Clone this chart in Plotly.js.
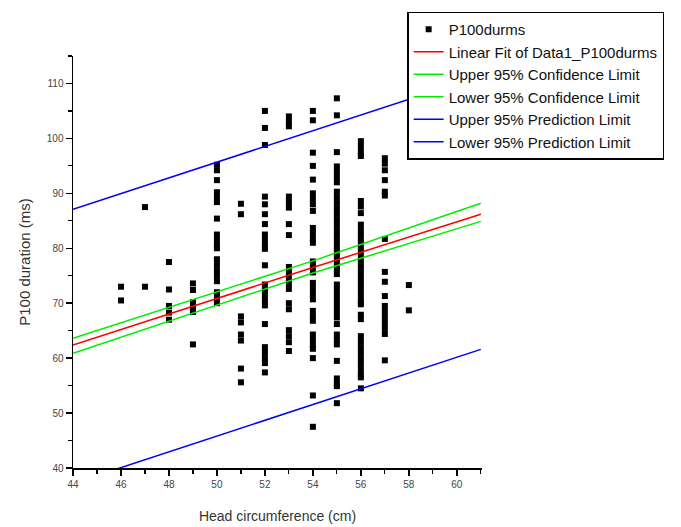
<!DOCTYPE html>
<html>
<head>
<meta charset="utf-8">
<script src="https://cdn.plot.ly/plotly-3.0.1.min.js"></script>
<style>html,body{margin:0;padding:0;background:#fff;}#chart{width:681px;height:527px;}</style>
</head>
<body>
<div id="chart"></div>
<script>
// Scatter data: P100 duration (ms) per head circumference (cm)
const p100_46 = [73.0, 70.5];
const p100_47 = [87.5, 73.0];
const p100_48 = [77.5, 72.5, 69.5, 68.3, 67.0];
const p100_49 = [73.6, 72.4, 70.2, 69.2, 68.4, 62.5];
const p100_50 = [95.2, 94.2, 92.4, 90.2, 89.2, 88.4, 85.4, 82.5, 81.5, 80.5, 80.0, 78.0, 77.0, 76.0, 75.0, 74.0, 72.0, 71.0, 70.0];
const p100_51 = [88.1, 86.2, 67.6, 66.5, 64.3, 63.2, 58.1, 55.6];
const p100_52 = [105.0, 101.9, 98.8, 89.4, 88.0, 86.2, 84.4, 82.5, 81.5, 80.5, 79.9, 76.9, 73.4, 72.4, 71.4, 70.4, 69.6, 66.2, 62.0, 61.0, 60.0, 59.1, 57.4];
const p100_53 = [104.0, 103.0, 102.2, 89.4, 88.4, 87.4, 84.4, 82.4, 76.6, 75.6, 74.6, 73.6, 72.6, 70.0, 68.9, 65.1, 64.0, 62.9, 61.3];
const p100_54 = [105.0, 103.3, 97.4, 95.0, 92.5, 90.0, 89.0, 88.0, 86.8, 83.7, 82.7, 81.7, 81.0, 77.6, 76.6, 75.6, 73.7, 72.7, 71.7, 70.7, 68.6, 67.6, 66.8, 64.3, 63.3, 62.3, 61.7, 60.0, 53.2, 47.5];
const p100_55 = [107.3, 104.2, 97.5, 94.9, 93.9, 92.9, 92.0, 90.3, 89.3, 88.3, 87.3, 86.3, 85.3, 84.3, 83.3, 82.3, 81.3, 80.3, 79.3, 78.3, 77.3, 76.3, 75.3, 73.4, 72.4, 71.4, 70.4, 69.4, 68.4, 67.4, 66.2, 64.3, 63.3, 62.5, 59.5, 56.3, 55.3, 54.9, 51.8];
const p100_56 = [99.5, 98.5, 97.5, 96.8, 88.6, 87.6, 86.4, 84.3, 83.3, 82.3, 81.3, 80.3, 79.3, 78.3, 77.3, 76.3, 75.3, 74.3, 73.3, 72.3, 71.3, 70.3, 69.8, 67.9, 67.1, 64.0, 63.0, 62.0, 61.0, 60.0, 59.0, 58.0, 57.0, 56.5, 54.5];
const p100_57 = [96.4, 95.4, 94.2, 92.4, 90.3, 89.6, 81.7, 75.7, 73.9, 71.3, 69.5, 68.5, 67.5, 66.5, 65.5, 64.4, 59.6];
const p100_58 = [73.3, 68.7];

const headCirc = [46, 47, 48, 49, 50, 51, 52, 53, 54, 55, 56, 57, 58];
const p100Columns = [p100_46, p100_47, p100_48, p100_49, p100_50, p100_51, p100_52, p100_53, p100_54, p100_55, p100_56, p100_57, p100_58];

// Fit and limit lines
const lineX = [44, 54, 61];
const fitY = [62.4, 76.5, 86.2];
const confUpperY = [63.6, 77.7, 88.2];
const confLowerY = [60.9, 75.5, 84.9];
const predX = [44, 61];
const predUpperY = [87.1, 111.4];
const predLowerY = [37.2, 61.6];

const xs = [], ys = [];
headCirc.forEach((h, i) => p100Columns[i].forEach(v => { xs.push(h); ys.push(v); }));

const FONT = 'Liberation Sans, Arial, sans-serif';

const traces = [
  {x: xs, y: ys, mode: 'markers', type: 'scatter', name: 'P100durms',
   marker: {symbol: 'square', size: 6, color: '#000'}},
  {x: lineX, y: fitY, mode: 'lines', name: 'Linear Fit of Data1_P100durms', line: {color: '#ff0000', width: 1.5}},
  {x: lineX, y: confUpperY, mode: 'lines', name: 'Upper 95% Confidence Limit', line: {color: '#00ee00', width: 1.5}},
  {x: lineX, y: confLowerY, mode: 'lines', name: 'Lower 95% Confidence Limit', line: {color: '#00ee00', width: 1.5}},
  {x: predX, y: predUpperY, mode: 'lines', name: 'Upper 95% Prediction Limit', line: {color: '#0000ff', width: 1.5}},
  {x: predX, y: predLowerY, mode: 'lines', name: 'Lower 95% Prediction Limit', line: {color: '#0000ff', width: 1.5}}
];

const layout = {
  width: 681, height: 527,
  margin: {l: 73, r: 199, t: 52, b: 59},
  paper_bgcolor: '#fff', plot_bgcolor: '#fff',
  font: {family: FONT, color: '#222'},
  showlegend: true,
  legend: {x: 0.817, y: 1.108, xanchor: 'left', yanchor: 'top',
           bgcolor: '#fff', bordercolor: '#000', borderwidth: 1.5,
           font: {family: FONT, size: 15, color: '#111'}},
  xaxis: {range: [44, 61.05], dtick: 2, tick0: 44, showgrid: false, zeroline: false,
          showline: true, linecolor: '#000', linewidth: 1.5,
          ticks: 'outside', ticklen: 6, tickwidth: 1.5, tickcolor: '#000',
          minor: {dtick: 1, ticks: 'outside', ticklen: 4, tickwidth: 1.2, tickcolor: '#000', showgrid: false},
          tickfont: {family: FONT, size: 10, color: '#444'},
          title: {text: 'Head circumference (cm)', font: {family: FONT, size: 14, color: '#333'}, standoff: 22}},
  yaxis: {range: [40, 115], dtick: 10, tick0: 40, showgrid: false, zeroline: false,
          showline: true, linecolor: '#000', linewidth: 1.5,
          ticks: 'outside', ticklen: 6, tickwidth: 1.5, tickcolor: '#000',
          minor: {dtick: 5, ticks: 'outside', ticklen: 4, tickwidth: 1.2, tickcolor: '#000', showgrid: false},
          tickfont: {family: FONT, size: 10, color: '#444'},
          title: {text: 'P100 duration (ms)', font: {family: FONT, size: 15, color: '#333'}, standoff: 12}}
};

Plotly.newPlot('chart', traces, layout, {displayModeBar: false, staticPlot: true});
</script>
</body>
</html>
